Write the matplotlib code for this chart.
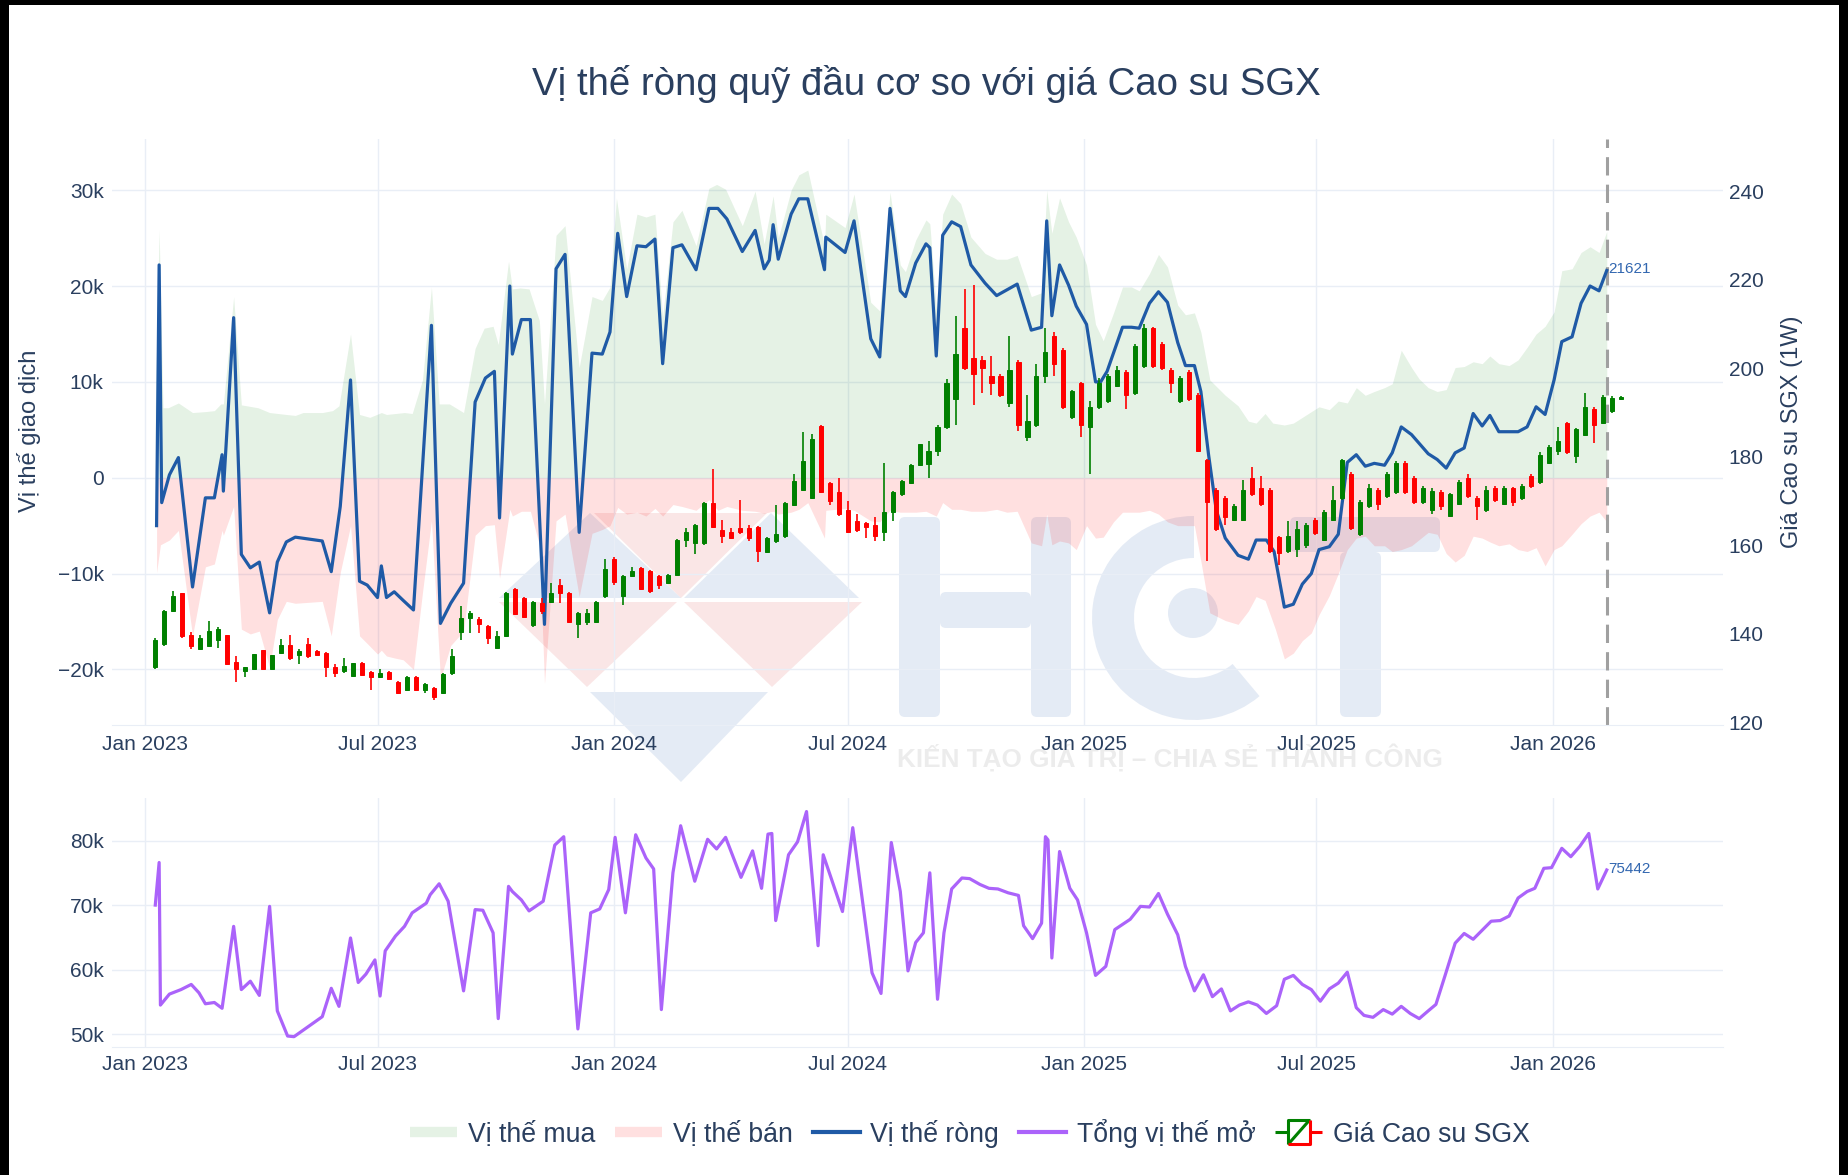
import numpy as np
import pandas as pd
import matplotlib
matplotlib.use("Agg")
import matplotlib.pyplot as plt
import matplotlib.dates as mdates
from matplotlib.patches import Polygon, Rectangle, Wedge, Circle, FancyBboxPatch
from matplotlib.lines import Line2D
from matplotlib.legend_handler import HandlerBase

plt.rcParams["font.family"] = ["Liberation Sans", "DejaVu Sans"]

# ---- data (days counted from 2023-01-01, positions in thousand contracts) ----
net_days = [9, 11, 13, 19, 26, 37, 47, 54, 60, 61,
            69, 75, 82, 89, 97, 103, 110, 117, 138, 145,
            152, 160, 167, 173, 181, 184, 188, 194, 201, 209,
            223, 230, 238, 248, 257, 265, 272, 276, 284, 286,
            293, 300, 311, 320, 327, 338, 348, 356, 362, 368,
            375, 383, 390, 397, 403, 411, 418, 429, 439, 446,
            453, 465, 475, 482, 486, 489, 493, 503, 509, 516,
            529, 530, 545, 552, 565, 572, 580, 588, 592, 600,
            608, 611, 616, 621, 628, 635, 643, 654, 663, 671,
            679, 690, 698, 702, 706, 712, 719, 725, 733, 740,
            744, 749, 761, 768, 774, 782, 789, 796, 804, 810,
            817, 822, 828, 834, 841, 851, 859, 865, 873, 879,
            887, 894, 901, 908, 914, 922, 929, 936, 943, 950,
            957, 965, 971, 978, 986, 999, 1006, 1013, 1020, 1027,
            1034, 1041, 1047, 1054, 1062, 1069, 1076, 1083, 1090, 1097,
            1103, 1111, 1118, 1125, 1132, 1138]
net_vals = [-5.0, 22.2, -2.6, 0.3, 2.1, -11.4, -2.1, -2.1, 2.4, -1.4,
            16.7, -8.0, -9.4, -8.8, -14.1, -8.8, -6.7, -6.2, -6.6, -9.8,
            -3.0, 10.2, -10.8, -11.2, -12.5, -9.2, -12.5, -11.9, -12.8, -13.8,
            15.9, -15.2, -13.1, -11.0, 7.9, 10.4, 11.1, -4.2, 20.0, 12.9,
            16.5, 16.5, -15.3, 21.8, 23.3, -5.7, 13.0, 12.9, 15.2, 25.5,
            18.9, 24.2, 24.1, 24.9, 11.9, 24.0, 24.3, 21.7, 28.1, 28.1,
            27.0, 23.6, 25.8, 21.8, 22.7, 26.4, 22.8, 27.5, 29.1, 29.1,
            21.7, 25.1, 23.5, 26.8, 14.5, 12.6, 28.1, 19.5, 18.9, 22.4,
            24.4, 24.0, 12.7, 25.3, 26.7, 26.2, 22.2, 20.3, 19.0, 19.6,
            20.2, 15.4, 15.7, 26.8, 16.9, 22.2, 20.1, 17.9, 16.0, 10.0,
            10.0, 11.1, 15.7, 15.7, 15.6, 18.2, 19.4, 18.3, 14.1, 11.7,
            11.7, 9.0, 2.4, -3.4, -6.3, -8.1, -8.5, -6.5, -6.5, -7.7,
            -13.5, -13.2, -11.1, -10.0, -7.5, -7.2, -5.9, 1.6, 2.4, 1.2,
            1.5, 1.3, 2.6, 5.3, 4.5, 2.5, 1.9, 1.0, 2.6, 3.1,
            6.7, 5.4, 6.5, 4.8, 4.8, 4.8, 5.3, 7.4, 6.6, 10.2,
            14.2, 14.7, 18.2, 20.0, 19.5, 21.621]

buy_days = [8, 11, 14, 18, 26, 37, 47, 54, 59, 61,
            69, 75, 88, 97, 110, 117, 123, 138, 146, 151,
            160, 167, 175, 184, 188, 202, 208, 216, 223, 229,
            237, 248, 257, 264, 271, 275, 283, 286, 292, 299,
            307, 311, 320, 327, 338, 348, 356, 362, 367, 375,
            383, 390, 397, 403, 411, 418, 429, 439, 445, 452,
            465, 475, 482, 489, 493, 503, 509, 516, 529, 530,
            545, 552, 565, 572, 580, 588, 592, 600, 608, 611,
            616, 621, 628, 635, 643, 654, 663, 671, 679, 690,
            698, 702, 706, 712, 719, 725, 733, 740, 746, 754,
            761, 768, 774, 782, 789, 796, 804, 810, 817, 822,
            829, 841, 851, 859, 865, 872, 878, 887, 894, 901,
            908, 914, 922, 929, 936, 943, 950, 957, 965, 971,
            978, 986, 992, 999, 1006, 1013, 1020, 1027, 1034, 1041,
            1047, 1054, 1062, 1069, 1076, 1083, 1090, 1097, 1103, 1111,
            1118, 1125, 1132, 1138]
buy_vals = [7.3, 25.9, 7.3, 7.3, 7.8, 6.8, 6.9, 7.0, 7.7, 7.7,
            18.9, 7.6, 7.3, 6.8, 6.6, 6.5, 6.8, 6.8, 7.0, 7.5,
            15.0, 6.6, 6.3, 6.8, 6.6, 6.8, 6.7, 10.2, 19.9, 7.7,
            7.7, 6.8, 13.5, 15.6, 15.8, 13.9, 22.6, 19.7, 19.8, 19.7,
            16.4, 7.7, 25.3, 26.3, 11.5, 18.9, 18.5, 19.9, 29.2, 21.8,
            27.5, 27.2, 27.5, 16.8, 26.7, 27.9, 24.2, 30.2, 30.6, 30.1,
            26.3, 29.9, 24.4, 29.4, 25.0, 30.0, 31.6, 32.1, 24.2, 27.5,
            26.1, 29.6, 18.3, 17.4, 29.8, 22.2, 21.5, 24.8, 26.9, 26.5,
            17.6, 27.5, 29.6, 28.6, 25.1, 23.4, 22.8, 22.8, 23.2, 18.9,
            19.3, 30.0, 25.5, 29.2, 26.7, 25.1, 22.2, 16.0, 14.3, 17.2,
            19.9, 19.9, 19.5, 21.3, 23.3, 22.0, 18.0, 17.0, 17.2, 15.2,
            10.2, 8.6, 7.5, 5.9, 5.7, 6.7, 5.7, 5.5, 5.7, 6.3,
            6.9, 7.4, 7.1, 8.0, 7.8, 9.4, 8.6, 9.0, 9.4, 9.8,
            13.3, 11.5, 10.3, 9.4, 9.0, 9.2, 11.5, 11.6, 12.1, 11.9,
            12.7, 11.9, 11.7, 12.3, 13.6, 15.0, 15.8, 17.3, 21.6, 21.8,
            23.5, 24.1, 23.5, 25.7]

sell_days = [9, 12, 19, 26, 37, 47, 54, 60, 61, 69,
             75, 82, 89, 97, 103, 110, 117, 138, 145, 152,
             160, 167, 173, 181, 184, 188, 194, 201, 209, 216,
             223, 230, 238, 248, 257, 265, 272, 276, 284, 286,
             293, 300, 307, 311, 320, 327, 338, 348, 356, 362,
             368, 375, 383, 390, 397, 403, 411, 418, 429, 439,
             446, 453, 465, 475, 482, 489, 493, 503, 509, 516,
             529, 530, 545, 552, 565, 572, 580, 588, 600, 608,
             616, 621, 628, 635, 643, 654, 663, 671, 679, 690,
             698, 702, 706, 712, 719, 725, 733, 740, 746, 754,
             761, 768, 774, 782, 789, 796, 804, 810, 817, 822,
             829, 841, 851, 859, 865, 872, 880, 887, 894, 901,
             908, 914, 922, 929, 936, 943, 950, 957, 965, 971,
             978, 986, 999, 1006, 1013, 1020, 1027, 1034, 1041, 1047,
             1054, 1062, 1069, 1076, 1083, 1090, 1097, 1103, 1111, 1118,
             1125, 1132, 1138]
sell_vals = [-9.9, -7.0, -6.5, -5.5, -16.5, -9.3, -9.0, -5.5, -6.0, -3.0,
             -15.8, -16.3, -16.0, -19.8, -14.8, -12.9, -13.1, -12.9, -16.5, -9.9,
             -5.0, -16.5, -17.3, -18.4, -18.0, -18.6, -18.8, -19.0, -20.0, -12.0,
             -4.5, -21.0, -17.5, -16.0, -6.0, -5.0, -4.9, -10.5, -3.3, -4.0,
             -3.5, -3.5, -7.0, -21.5, -4.5, -3.8, -12.4, -5.8, -5.4, -5.0,
             -3.1, -3.8, -3.6, -4.0, -3.2, -4.0, -2.8, -3.0, -3.4, -2.3,
             -3.4, -3.0, -3.4, -3.5, -3.7, -3.5, -3.8, -3.6, -3.3, -2.6,
             -6.3, -3.4, -3.2, -3.4, -4.5, -4.6, -3.4, -3.6, -3.6, -3.5,
             -4.0, -2.6, -3.3, -3.3, -3.5, -3.5, -3.3, -3.6, -3.5, -6.8,
             -7.1, -3.8, -7.0, -6.6, -6.8, -7.5, -5.0, -6.3, -6.2, -4.6,
             -3.6, -3.6, -3.6, -3.4, -3.8, -4.6, -5.0, -5.0, -5.0, -8.7,
             -14.1, -14.9, -15.3, -13.9, -12.4, -12.8, -15.8, -18.9, -18.3, -17.0,
             -16.2, -14.3, -12.3, -10.0, -7.5, -6.3, -6.1, -7.1, -7.1, -7.7,
             -7.5, -7.1, -5.7, -5.9, -7.9, -8.8, -8.1, -6.1, -6.3, -6.7,
             -7.1, -6.9, -7.5, -7.7, -7.3, -9.2, -7.5, -7.1, -5.9, -4.8,
             -4.0, -3.6, -4.6]

oi_days = [8, 11, 12, 19, 28, 36, 42, 47, 54, 60,
           69, 75, 82, 89, 97, 103, 111, 116, 126, 138,
           145, 151, 160, 166, 172, 179, 183, 187, 195, 202,
           208, 219, 222, 229, 236, 248, 257, 263, 271, 275,
           283, 286, 293, 299, 310, 319, 326, 337, 347, 354,
           361, 366, 374, 382, 390, 396, 402, 411, 417, 428,
           438, 445, 452, 464, 473, 480, 485, 488, 491, 501,
           508, 515, 524, 528, 543, 551, 566, 573, 581, 588,
           594, 600, 606, 611, 617, 622, 628, 636, 642, 650,
           657, 664, 672, 680, 684, 691, 698, 701, 703, 706,
           712, 720, 726, 733, 740, 748, 755, 761, 767, 775,
           782, 789, 796, 804, 810, 817, 824, 831, 838, 845,
           852, 859, 866, 873, 881, 887, 894, 901, 908, 915,
           922, 929, 936, 943, 949, 956, 964, 971, 978, 985,
           992, 999, 1005, 1012, 1020, 1027, 1034, 1041, 1048, 1055,
           1062, 1069, 1076, 1082, 1089, 1095, 1103, 1110, 1117, 1124,
           1131, 1138]
oi_vals = [70.0, 76.6, 54.5, 56.2, 56.9, 57.7, 56.4, 54.7, 54.9, 54.0,
           66.7, 56.9, 58.2, 56.0, 69.8, 53.6, 49.7, 49.6, 51.0, 52.7,
           57.1, 54.3, 64.9, 58.0, 59.3, 61.5, 55.9, 62.9, 65.2, 66.7,
           68.8, 70.3, 71.6, 73.3, 70.6, 56.7, 69.3, 69.2, 65.7, 52.4,
           72.9, 72.1, 70.8, 69.1, 70.6, 79.3, 80.6, 50.8, 68.8, 69.4,
           72.4, 80.5, 68.8, 80.9, 77.3, 75.6, 53.8, 75.0, 82.3, 73.7,
           80.2, 78.7, 80.5, 74.3, 78.4, 72.6, 81.0, 81.1, 67.6, 77.8,
           79.8, 84.5, 63.7, 77.8, 69.0, 82.0, 59.5, 56.3, 79.7, 72.1,
           59.8, 64.2, 65.7, 75.0, 55.4, 65.7, 72.5, 74.2, 74.1, 73.2,
           72.6, 72.5, 71.9, 71.5, 66.8, 64.8, 67.2, 80.6, 80.1, 61.8,
           78.3, 72.6, 70.8, 65.7, 59.1, 60.5, 66.2, 67.0, 67.8, 69.8,
           69.7, 71.8, 68.6, 65.4, 60.5, 56.7, 59.2, 55.8, 57.0, 53.6,
           54.5, 55.0, 54.5, 53.2, 54.4, 58.5, 59.1, 57.7, 56.9, 55.1,
           57.0, 57.9, 59.6, 54.1, 52.9, 52.6, 53.8, 53.1, 54.3, 53.2,
           52.4, 53.6, 54.6, 59.0, 64.1, 65.6, 64.7, 66.1, 67.5, 67.6,
           68.3, 71.1, 72.1, 72.6, 75.7, 75.8, 78.8, 77.5, 79.1, 81.1,
           72.5, 75.442]

# weekly SGX rubber candles, first bar week of 2023-01-09
candle_start = "2023-01-09"
c_open = [132.4, 137.8, 145.2, 149.3, 139.8, 136.5, 137.3, 138.6, 139.8, 133.6,
          131.7, 132.0, 136.3, 132.0, 135.7, 137.4, 135.3, 137.8, 136.1, 135.7,
          132.4, 131.6, 130.5, 133.4, 131.4, 130.3, 131.3, 129.2, 127.4, 130.3,
          127.4, 127.8, 126.6, 131.2, 140.5, 143.5, 143.4, 141.8, 136.9, 139.4,
          150.1, 148.1, 141.9, 147.0, 147.3, 151.0, 149.3, 142.3, 142.7, 142.7,
          148.5, 156.8, 148.5, 153.0, 154.9, 154.3, 153.0, 151.4, 153.4, 161.3,
          160.5, 160.5, 169.6, 163.4, 162.9, 163.8, 163.8, 164.2, 158.4, 160.9,
          162.1, 169.1, 172.5, 170.8, 186.9, 174.1, 172.0, 167.9, 165.4, 165.0,
          164.6, 163.0, 167.5, 171.6, 174.1, 178.2, 178.3, 181.4, 186.8, 193.0,
          209.0, 202.4, 201.9, 198.3, 198.3, 192.1, 201.5, 184.5, 187.2, 198.3,
          207.3, 204.1, 189.0, 196.6, 186.8, 191.2, 192.6, 196.1, 199.2, 194.3,
          200.6, 209.0, 205.5, 199.7, 192.6, 199.2, 193.9, 179.2, 172.5, 170.7,
          165.8, 165.8, 175.2, 172.9, 172.5, 161.8, 158.7, 159.1, 160.0, 165.8,
          161.3, 165.8, 170.7, 176.1, 162.6, 168.9, 172.5, 171.1, 172.0, 178.7,
          175.2, 169.8, 168.0, 172.0, 166.7, 169.4, 175.2, 170.7, 168.0, 172.9,
          169.4, 172.9, 170.7, 175.6, 174.3, 178.7, 181.4, 187.7, 180.1, 185.0,
          190.8, 187.7, 190.4, 193.0]
c_high = [139.0, 145.4, 149.7, 149.3, 140.5, 139.8, 142.9, 141.5, 139.8, 135.0,
          132.4, 135.5, 136.3, 135.3, 138.8, 139.8, 136.5, 139.0, 136.3, 135.9,
          133.2, 134.5, 133.4, 133.6, 131.6, 132.0, 131.5, 129.4, 130.5, 130.5,
          128.8, 128.0, 131.1, 136.5, 146.3, 145.2, 143.8, 142.0, 140.6, 149.5,
          150.3, 148.3, 147.4, 148.1, 151.4, 152.4, 149.5, 145.0, 145.5, 147.4,
          156.8, 157.3, 153.2, 155.0, 155.1, 154.5, 153.2, 153.6, 161.5, 163.8,
          164.8, 169.8, 177.2, 165.8, 163.8, 170.2, 164.6, 164.4, 161.9, 169.1,
          169.8, 176.2, 185.6, 185.2, 187.1, 174.3, 175.3, 170.0, 167.1, 165.2,
          166.3, 178.6, 172.2, 174.7, 178.4, 183.0, 183.6, 187.2, 197.5, 211.7,
          217.9, 218.8, 202.8, 202.8, 198.7, 207.3, 201.9, 193.9, 201.0, 209.0,
          208.2, 204.5, 195.2, 197.0, 192.5, 197.9, 198.7, 200.6, 199.7, 205.4,
          209.9, 209.4, 206.0, 200.1, 198.3, 199.7, 194.3, 179.6, 172.9, 171.1,
          169.4, 174.7, 177.8, 175.6, 172.9, 162.2, 165.4, 165.4, 165.0, 166.2,
          168.0, 173.4, 179.6, 176.5, 170.2, 173.8, 172.9, 176.5, 179.1, 179.1,
          175.6, 173.4, 172.9, 172.5, 171.9, 174.7, 176.1, 171.1, 173.4, 173.4,
          173.4, 173.2, 173.8, 176.1, 181.0, 182.7, 186.8, 187.9, 186.5, 194.4,
          191.2, 194.0, 193.8, 193.8]
c_low = [132.0, 137.3, 145.0, 139.0, 136.5, 136.4, 137.3, 136.9, 133.2, 129.1,
         130.3, 132.0, 132.0, 132.0, 135.5, 134.0, 133.2, 134.5, 135.1, 130.3,
         130.3, 131.2, 130.3, 130.6, 127.4, 130.1, 129.7, 126.4, 127.2, 127.2,
         126.6, 125.0, 126.4, 130.8, 138.6, 140.2, 140.2, 137.8, 136.7, 139.2,
         144.2, 143.7, 141.5, 144.4, 147.0, 146.9, 142.5, 139.0, 142.0, 142.5,
         148.1, 151.0, 146.4, 152.8, 149.9, 149.3, 150.2, 151.2, 153.2, 159.7,
         158.0, 160.0, 163.8, 160.5, 161.4, 162.5, 160.9, 156.3, 158.2, 160.5,
         161.7, 168.8, 172.3, 170.4, 171.8, 169.1, 166.7, 162.7, 163.0, 161.7,
         160.9, 160.9, 165.4, 171.2, 173.9, 178.0, 175.2, 180.1, 186.3, 187.2,
         199.7, 191.7, 194.3, 193.9, 193.5, 191.2, 185.9, 183.6, 186.8, 196.6,
         198.3, 190.8, 188.6, 184.5, 176.1, 190.8, 192.1, 195.7, 190.8, 193.9,
         200.1, 200.1, 199.7, 194.3, 192.1, 192.6, 181.0, 156.4, 163.2, 164.5,
         165.4, 165.4, 171.1, 168.9, 158.3, 155.6, 158.3, 157.3, 159.5, 162.3,
         160.9, 165.4, 170.3, 163.5, 162.2, 168.5, 168.0, 170.7, 171.6, 171.6,
         169.4, 169.4, 167.1, 168.0, 166.3, 169.0, 170.7, 165.8, 167.6, 169.8,
         169.0, 168.9, 170.3, 173.0, 173.8, 178.3, 180.5, 180.7, 178.7, 184.6,
         183.2, 187.3, 190.0, 192.8]
c_close = [138.6, 145.2, 148.5, 139.4, 137.3, 139.0, 140.6, 141.1, 133.2, 132.0,
           132.4, 135.5, 132.0, 135.3, 137.4, 134.5, 136.1, 134.9, 135.3, 132.4,
           131.2, 132.8, 133.3, 130.8, 130.3, 131.2, 129.9, 126.6, 130.3, 127.4,
           128.6, 125.7, 130.9, 134.9, 143.5, 144.8, 142.3, 139.0, 139.4, 149.3,
           144.4, 143.9, 147.1, 145.2, 149.3, 149.3, 142.7, 144.8, 144.8, 147.2,
           154.7, 151.8, 153.0, 154.3, 150.1, 149.7, 151.0, 153.4, 161.3, 162.9,
           164.6, 169.6, 164.2, 162.1, 161.7, 162.9, 161.7, 158.8, 161.7, 162.5,
           169.6, 174.5, 179.1, 184.0, 172.0, 170.0, 167.1, 162.9, 163.4, 164.2,
           162.1, 167.5, 172.0, 174.5, 178.2, 182.8, 181.4, 186.8, 196.6, 203.3,
           200.1, 198.8, 200.1, 196.6, 193.9, 199.7, 187.2, 188.1, 198.3, 203.7,
           201.0, 191.2, 194.8, 187.2, 191.2, 196.6, 198.3, 199.7, 193.9, 205.0,
           209.0, 200.6, 200.1, 196.6, 197.9, 193.0, 181.4, 169.8, 163.6, 166.3,
           168.9, 172.5, 171.6, 169.4, 158.7, 158.2, 162.2, 163.6, 164.5, 162.7,
           167.6, 170.3, 179.2, 164.0, 169.8, 172.9, 169.4, 176.1, 178.7, 172.0,
           169.8, 172.9, 172.3, 168.9, 171.6, 174.3, 171.1, 168.9, 172.5, 170.3,
           172.9, 169.8, 173.4, 173.4, 180.5, 182.3, 183.6, 181.0, 186.3, 191.3,
           187.2, 193.5, 193.2, 193.6]

title = "Vị thế ròng quỹ đầu cơ so với giá Cao su SGX"
legend_labels = ["Vị thế mua", "Vị thế bán", "Vị thế ròng", "Tổng vị thế mở", "Giá Cao su SGX"]

# ---- styling ----
TXT = "#2a3f5f"
GRID = "#e9eef6"
BLUE = "#1f5aa6"
PURPLE = "#ab63fa"
UP, DOWN = "#008000", "#ff0000"
BUY_FILL = (0.0, 0.5, 0.0, 0.10)
SELL_FILL = (1.0, 0.0, 0.0, 0.12)
TICK_SIZE = 15

W, H = 1848, 1175
base = mdates.date2num(pd.Timestamp("2023-01-01"))


def days_to_num(days):
    return base + np.asarray(days, dtype=float)


def box(x0, y0, x1, y1):
    return [x0 / W, 1 - y1 / H, (x1 - x0) / W, (y1 - y0) / H]


fig = plt.figure(figsize=(W / 100, H / 100), dpi=100, facecolor="white")

# background layer: frame + watermark, in pixel coords
bg = fig.add_axes([0, 0, 1, 1], zorder=0)
bg.set_xlim(0, W)
bg.set_ylim(H, 0)
bg.axis("off")
for r in [(0, 0, 9, H), (0, 0, W, 5), (1839, 0, 9, H)]:
    bg.add_patch(Rectangle(r[:2], r[2], r[3], color="black", lw=0))

wm_blue = (0.2, 0.4, 0.7, 0.13)
wm_red = (0.85, 0.25, 0.25, 0.13)
tris = [([(499, 598), (590, 513), (681, 598)], wm_blue),
        ([(594, 513), (767, 513), (681, 598)], wm_red),
        ([(684, 598), (771, 513), (859, 598)], wm_blue),
        ([(499, 602), (677, 602), (587, 687)], wm_red),
        ([(684, 602), (862, 602), (772, 687)], wm_red),
        ([(590, 692), (768, 692), (681, 782)], wm_blue)]
for pts, col in tris:
    bg.add_patch(Polygon(pts, closed=True, facecolor=col, edgecolor="none"))
for (x0, y0, x1, y1) in [(899, 517, 940, 717), (1031, 517, 1071, 717),
                         (940, 592, 1031, 628), (1290, 517, 1440, 552),
                         (1340, 552, 1381, 717)]:
    bg.add_patch(FancyBboxPatch((x0, y0), x1 - x0, y1 - y0,
                                boxstyle="round,pad=0,rounding_size=6",
                                facecolor=wm_blue, edgecolor="none"))
bg.add_patch(Wedge((1194, 618), 102, 50, 270, width=42, facecolor=wm_blue, edgecolor="none"))
bg.add_patch(Circle((1193, 613), 25, facecolor=wm_blue, edgecolor="none"))
bg.text(1170, 758, "KIẾN TẠO GIÁ TRỊ – CHIA SẺ THÀNH CÔNG", ha="center", va="center",
        fontsize=18.8, fontweight="bold", color=(0.55, 0.55, 0.55, 0.16))

xlim = (base - 25.7, base + 1228.5)


def style_axis(a, ylim):
    a.set_facecolor("none")
    a.set_xlim(*xlim)
    a.set_ylim(*ylim)
    a.grid(True, color=GRID, lw=1.0)
    a.set_axisbelow(True)
    for s in ["top", "left", "right"]:
        a.spines[s].set_visible(False)
    a.spines["bottom"].set_color(GRID)
    a.xaxis.set_major_locator(mdates.MonthLocator(bymonth=[1, 7]))
    a.xaxis.set_major_formatter(mdates.DateFormatter("%b %Y"))
    a.tick_params(length=0, labelsize=TICK_SIZE, labelcolor=TXT)


def kfmt(v, _):
    if abs(v) < 1e-9:
        return "0"
    return ("−" if v < 0 else "") + f"{abs(v):.0f}k"


# ---- top panel: positions ----
ax = fig.add_axes(box(112, 139, 1723, 725), zorder=1)
style_axis(ax, (-25.8, 35.34))
ax.set_yticks([-20, -10, 0, 10, 20, 30])
ax.yaxis.set_major_formatter(plt.FuncFormatter(kfmt))
ax.tick_params(axis="y", pad=6)
ax.tick_params(axis="x", pad=7)

ax.fill_between(days_to_num(buy_days), 0, buy_vals, color=BUY_FILL, lw=0)
ax.fill_between(days_to_num(sell_days), 0, sell_vals, color=SELL_FILL, lw=0)
net_x = days_to_num(net_days)
ax.plot(net_x, net_vals, color=BLUE, lw=2.3, zorder=3, solid_joinstyle="round")
ax.axvline(net_x[-1], color="#a0a0a0", lw=2.2, ls=(0, (6, 3)), zorder=2)
ax.annotate(f"{net_vals[-1] * 1000:.0f}", xy=(net_x[-1], net_vals[-1]), xytext=(1, 1),
            textcoords="offset points", ha="left", va="center", fontsize=11, color="#3267b0")

# price candles on right axis
axp = ax.twinx()
axp.set_zorder(2)
axp.set_xlim(*xlim)
axp.set_ylim(119.4, 251.8)
for s in axp.spines.values():
    s.set_visible(False)
axp.set_yticks(range(120, 241, 20))
axp.tick_params(length=0, labelsize=TICK_SIZE, labelcolor=TXT, pad=4)
cx = mdates.date2num(pd.date_range(candle_start, periods=len(c_open), freq="7D"))
o, hh, ll, cc = map(np.asarray, (c_open, c_high, c_low, c_close))
cols = np.where(cc >= o, UP, DOWN)
axp.vlines(cx, ll, hh, colors=cols, lw=1.2)
axp.bar(cx, np.abs(cc - o), bottom=np.minimum(o, cc), width=3.2,
        color=cols, edgecolor=cols, lw=0.7)

# ---- bottom panel: open interest ----
axo = fig.add_axes(box(112, 798, 1723, 1047), zorder=1)
style_axis(axo, (48.0, 86.6))
axo.set_yticks([50, 60, 70, 80])
axo.yaxis.set_major_formatter(plt.FuncFormatter(kfmt))
axo.tick_params(axis="y", pad=6)
axo.tick_params(axis="x", pad=6)
oi_x = days_to_num(oi_days)
axo.plot(oi_x, oi_vals, color=PURPLE, lw=2.3, solid_joinstyle="round")
axo.annotate(f"{oi_vals[-1] * 1000:.0f}", xy=(oi_x[-1], oi_vals[-1]), xytext=(1, 1),
             textcoords="offset points", ha="left", va="center", fontsize=11, color="#3267b0")

# ---- texts ----
fig.text(926 / W, 1 - 95 / H, title, ha="center", va="baseline", fontsize=27.6, color=TXT)
fig.text(29 / W, 1 - 431 / H, "Vị thế giao dịch", rotation=90, ha="center", va="center",
         fontsize=17, color=TXT)
fig.text(1792 / W, 1 - 432 / H, "Giá Cao su SGX (1W)", rotation=90, ha="center", va="center",
         fontsize=17, color=TXT)


# ---- legend ----
class CandleIcon(HandlerBase):
    def create_artists(self, legend, orig_handle, xdescent, ydescent, width, height, fontsize, trans):
        x0, y0 = -xdescent, -ydescent
        xa, xb = x0 + 0.27 * width, x0 + 0.73 * width
        yb, yt = y0 - 0.1 * height, y0 + 1.1 * height
        ym = (yb + yt) / 2
        kw = dict(lw=2.2, transform=trans, solid_capstyle="butt")
        return [Line2D([x0, xa], [ym, ym], color=UP, **kw),
                Line2D([xa, xa, xb], [yb, yt, yt], color=UP, **kw),
                Line2D([xa, xb], [yb, yt], color=UP, **kw),
                Line2D([xa, xb, xb], [yb, yb, yt], color=DOWN, **kw),
                Line2D([xb, x0 + width], [ym, ym], color=DOWN, **kw)]


handles = [Line2D([], [], color=BUY_FILL, lw=7.5, solid_capstyle="butt"),
           Line2D([], [], color=SELL_FILL, lw=7.5, solid_capstyle="butt"),
           Line2D([], [], color=BLUE, lw=3),
           Line2D([], [], color=PURPLE, lw=3),
           Line2D([], [])]
leg = fig.legend(handles, legend_labels, loc="center", bbox_to_anchor=(970 / W, 1 - 1133 / H),
                 ncol=5, frameon=False, fontsize=19.2, handlelength=1.76, handleheight=0.8,
                 handletextpad=0.4, columnspacing=0.75,
                 handler_map={handles[4]: CandleIcon()})
for t in leg.get_texts():
    t.set_color(TXT)

fig.savefig("out.png", dpi=100, facecolor="white")
